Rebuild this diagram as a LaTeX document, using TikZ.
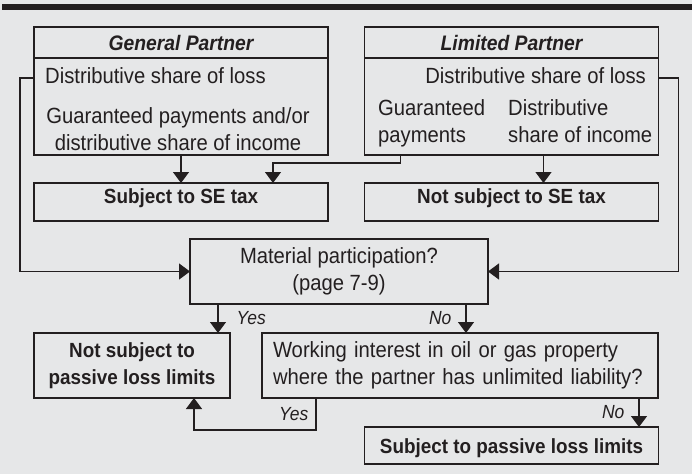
\documentclass[tikz,border=0pt]{standalone}
\usepackage{fontspec}
\setmainfont{Liberation Sans}[FakeStretch=0.92]
\usepackage{xcolor}
\usepackage{tikz}
\usetikzlibrary{arrows.meta, positioning}
\definecolor{panelgray}{RGB}{230,231,232}
\definecolor{inkgray}{RGB}{35,31,32}
\newcommand{\regfont}{\fontsize{22}{26.5}\selectfont}
\newcommand{\boldfont}{\fontsize{20.5}{27}\selectfont\bfseries}
\newcommand{\titlefont}{\fontsize{21}{26}\selectfont\bfseries\itshape}
\newcommand{\answerfont}{\fontsize{19}{23}\selectfont\itshape}

\begin{document}
\begin{tikzpicture}[x=1pt, y=-1pt,
        box/.style={rectangle, draw=inkgray, line width=1.4pt, inner sep=0pt, outer sep=0pt, minimum width=294pt, align=center, text=inkgray},
        head/.style={box, minimum height=31pt, font=\titlefont, text height=16.4pt, text depth=0pt},
        body/.style={box, minimum height=97pt},
        taxbox/.style={box, minimum height=38pt, font=\boldfont, text height=15pt, text depth=12.4pt},
        question/.style={box, minimum height=65pt, font=\regfont},
        result/.style={box, font=\boldfont},
        txt/.style={inner sep=0pt, text=inkgray, font=\regfont},
        answer/.style={inner sep=0pt, text=inkgray, font=\answerfont},
        arrow/.style={-{Triangle[width=16pt,length=11pt]}, line width=1.3pt, draw=inkgray},
        node distance=28pt
    ]
        \useasboundingbox (0,0) rectangle (692,474);
        \fill[panelgray] (0,0) rectangle (692,474);
        \fill[inkgray] (2,4) rectangle (692,9.5);

        \node[head] (gphead) at (181,42.5) {General Partner};
        \node[body, below=0pt of gphead] (gpbody) {};
        \node[taxbox, below=of gpbody] (se) {Subject to SE tax};
        \node[head] (lphead) at (511.5,42.5) {Limited Partner};
        \node[body, below=0pt of lphead] (lpbody) {};
        \node[taxbox, below=of lpbody] (nse) {Not subject to SE tax};

        \node[txt, anchor=base west] (gploss) at (45,83) {Distributive share of loss};
        \node[txt, align=center] (gpguar) at (178,129.3) {Guaranteed payments and/or\\distributive share of income};
        \node[txt, anchor=base east] (lploss) at (646,83) {Distributive share of loss};
        \node[txt, align=left, anchor=west] (lpguar) at (378,123.3) {Guaranteed\\payments};
        \node[txt, align=left, anchor=west] (lpincome) at (508,121) {Distributive\\share of income};

        \node[question, minimum width=298pt] (matl) at (339,271.5) {Material participation?\\(page 7-9)};
        \node[result, minimum width=196pt, minimum height=65pt] (nsp) at (132,365.5) {Not subject to\\passive loss limits};
        \node[question, minimum width=396pt, text width=374pt, align=left] (work) at (460,365.5) {Working interest in oil or gas property\\where the partner has unlimited liability?};
        \node[result, minimum height=37pt, text height=15.6pt, text depth=0pt] (spl) at (511.5,445.5) {Subject to passive loss limits};

        \draw[arrow] (gpbody.south) -- (se.north);
        \draw[arrow] ([xshift=36pt]lpbody.south west) -- ++(0,8) -| ([xshift=-55pt]se.north east);
        \draw[arrow] ([xshift=32pt]lpbody.south) -- ([xshift=32pt]nse.north);

        \draw[arrow] ([yshift=-3pt]gploss.west -| gpbody.west) -- ++(-14,0) |- (matl.west);
        \draw[arrow] ([yshift=-3pt]lploss.east -| lpbody.east) -- ++(20,0) |- (matl.east);

        \draw[arrow] ([xshift=28pt]matl.south west) -- node[answer, right=18pt] (yes1) {Yes} ([xshift=28pt]matl.south west |- nsp.north);
        \draw[arrow] ([xshift=-22pt]matl.south east) -- node[answer, left=14pt] (no1) {No} ([xshift=-22pt]matl.south east |- work.north);
        \draw[arrow] ([xshift=54pt]work.south west) -- node[answer, left=7pt] (yes2) {Yes} ++(0,32) -| ([xshift=-36pt]nsp.south east);
        \draw[arrow] ([xshift=-19pt]work.south east) -- node[answer, left=14pt] (no2) {No} ([xshift=-19pt]work.south east |- spl.north);
    \end{tikzpicture}
\end{document}
